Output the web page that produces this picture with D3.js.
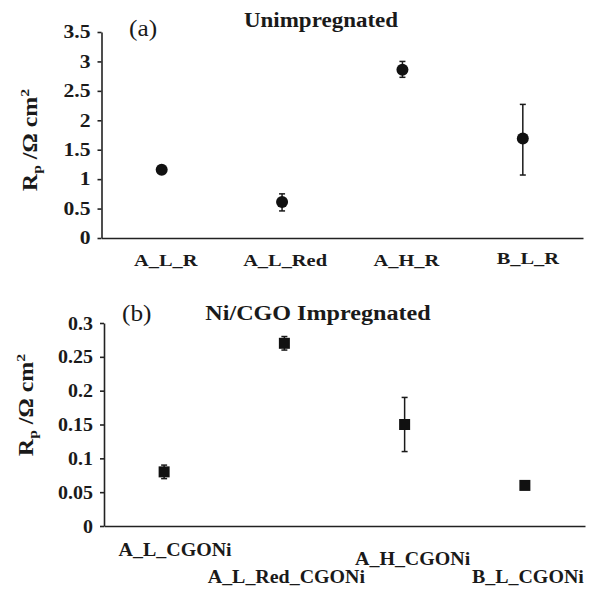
<!DOCTYPE html>
<html>
<head>
<meta charset="utf-8">
<script src="https://d3js.org/d3.v7.min.js"></script>
<style>
  body { margin: 0; background: #fff; }
  svg text { font-family: "Liberation Serif", "Times New Roman", serif; fill: #1a1a1a; }
  .axis path, .axis line { stroke: #222; stroke-width: 1.6; }
</style>
</head>
<body>
<div id="chart"></div>
<script>
"use strict"
// panel (a) - unimpregnated
var catsA = ["A_L_R", "A_L_Red", "A_H_R", "B_L_R"];
var valsA = [1.16, 0.61, 2.86, 1.69];
var loA = [1.13, 0.46, 2.73, 1.07];
var hiA = [1.19, 0.75, 3.0, 2.27];
var ticksA = [0, 0.5, 1, 1.5, 2, 2.5, 3, 3.5];

// panel (b) - Ni/CGO impregnated
var catsB = ["A_L_CGONi", "A_L_Red_CGONi", "A_H_CGONi", "B_L_CGONi"];
var valsB = [0.08, 0.27, 0.15, 0.06];
var loB = [0.07, 0.26, 0.11, 0.058];
var hiB = [0.09, 0.28, 0.19, 0.062];
var ticksB = [0, 0.05, 0.1, 0.15, 0.2, 0.25, 0.3];

var svg = d3.select("#chart").append("svg")
  .attr("width", 590).attr("height", 589);

var sx = 1.15; // o texto original esta esticado na horizontal

function painel(cfg) {
  var x = d3.scaleBand().domain(cfg.cats).range([cfg.left, cfg.right]);
  var y = d3.scaleLinear().domain([0, d3.max(cfg.ticks)]).range([cfg.bottom, cfg.top]);
  var g = svg.append("g");

  // eixo y
  var ay = g.append("g").attr("class", "axis")
    .attr("transform", "translate(" + cfg.left + ",0)")
    .call(d3.axisLeft(y).tickValues(cfg.ticks).tickFormat(d => String(+d.toFixed(2)))
      .tickSize(4).tickSizeOuter(0).tickPadding(7));
  ay.selectAll("text")
    .style("font-size", cfg.tickFont + "px").style("font-weight", "bold")
    .attr("x", -11 / cfg.tickSx)
    .attr("transform", "scale(" + cfg.tickSx + ",1)");

  // eixo x (sem ticks)
  g.append("g").attr("class", "axis")
    .attr("transform", "translate(0," + cfg.bottom + ")")
    .call(d3.axisBottom(x).tickSize(0).tickSizeOuter(0).tickFormat(""));

  // rotulos das categorias
  g.selectAll("text.cat").data(cfg.cats).enter()
    .append("text").attr("class", "cat")
    .attr("transform", (d, i) => "translate(" + (x(d) + x.bandwidth() / 2 + cfg.labDx[i]) + "," +
      (cfg.bottom + cfg.labDy[i]) + ") scale(" + cfg.labSx + ",1)")
    .attr("text-anchor", "middle")
    .style("font-size", cfg.labFont + "px").style("font-weight", "bold")
    .text(d => d);

  // barras de erro
  var cx = d => x(d) + x.bandwidth() / 2;
  var eb = g.selectAll("g.err").data(cfg.cats).enter().append("g").attr("class", "err")
    .attr("stroke", "#1a1a1a").attr("stroke-width", 1.5);
  eb.append("line").attr("x1", cx).attr("x2", cx)
    .attr("y1", (d, i) => y(cfg.lo[i])).attr("y2", (d, i) => y(cfg.hi[i]));
  eb.append("line").attr("x1", d => cx(d) - 3).attr("x2", d => cx(d) + 3)
    .attr("y1", (d, i) => y(cfg.lo[i])).attr("y2", (d, i) => y(cfg.lo[i]));
  eb.append("line").attr("x1", d => cx(d) - 3).attr("x2", d => cx(d) + 3)
    .attr("y1", (d, i) => y(cfg.hi[i])).attr("y2", (d, i) => y(cfg.hi[i]));

  // marcadores
  if (cfg.shape == "circle") {
    g.selectAll("circle.pt").data(cfg.cats).enter().append("circle")
      .attr("cx", cx).attr("cy", (d, i) => y(cfg.vals[i])).attr("r", 6).attr("fill", "#111");
  } else {
    g.selectAll("rect.pt").data(cfg.cats).enter().append("rect")
      .attr("x", d => cx(d) - 5.5).attr("y", (d, i) => y(cfg.vals[i]) - 5.5)
      .attr("width", 11).attr("height", 11).attr("fill", "#111");
  }

  // titulo do eixo y
  var t = g.append("text")
    .attr("transform", "translate(" + cfg.ytx + "," + cfg.yty + ") rotate(-90) scale(1.2,1)")
    .attr("text-anchor", "middle")
    .style("font-size", "20px").style("font-weight", "bold");
  t.append("tspan").text("R");
  t.append("tspan").attr("dy", 4).style("font-size", "13px").text("p");
  t.append("tspan").attr("dy", -4).text(" /Ω cm");
  t.append("tspan").attr("dy", -8).style("font-size", "13px").text("2");

  // titulo do painel e letra
  g.append("text")
    .attr("transform", "translate(" + cfg.titX + "," + cfg.titY + ") scale(" + sx + ",1)")
    .attr("text-anchor", "middle")
    .style("font-size", cfg.titFont + "px").style("font-weight", "bold")
    .text(cfg.title);
  g.append("text")
    .attr("transform", "translate(" + cfg.letX + "," + cfg.letY + ") scale(1.1,1)")
    .style("font-size", "23px")
    .text(cfg.letter);
}

painel({
  cats: catsA, vals: valsA, lo: loA, hi: hiA, ticks: ticksA, shape: "circle",
  left: 101.5, right: 583, top: 32, bottom: 238,
  tickFont: 18, tickSx: 1.2, labFont: 17, labSx: 1.2,
  labDx: [4, 3, 4, 5], labDy: [28, 28, 28, 26],
  ytx: 37, yty: 140,
  title: "Unimpregnated", titFont: 20, titX: 321, titY: 27,
  letter: "(a)", letX: 129, letY: 36
});

painel({
  cats: catsB, vals: valsB, lo: loB, hi: hiB, ticks: ticksB, shape: "square",
  left: 104, right: 585, top: 323, bottom: 526,
  tickFont: 19, tickSx: 1.05, labFont: 19, labSx: 1.05,
  labDx: [11, 2, 8, 3], labDy: [30, 57, 39, 57],
  ytx: 33, yty: 405,
  title: "Ni/CGO Impregnated", titFont: 21, titX: 318, titY: 320,
  letter: "(b)", letX: 122, letY: 321
});
</script>
</body>
</html>
